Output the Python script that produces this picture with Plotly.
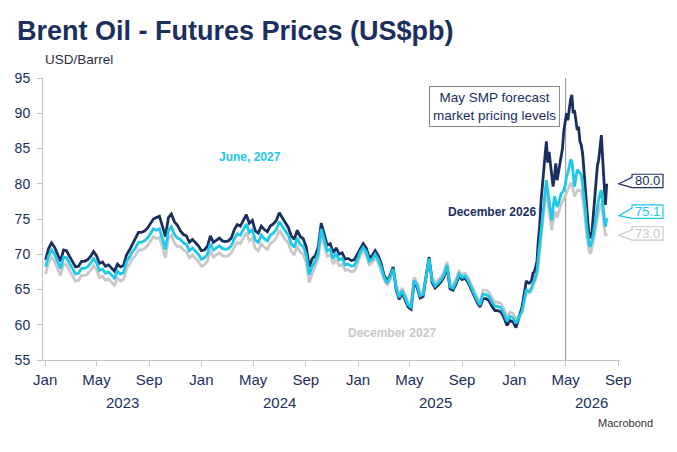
import pandas as pd
import plotly.graph_objects as go

# ---------------- data ----------------
WEEKLY_START = "2023-01-02"          # weekly observations
LATE_START, LATE_END = "2026-01-29", "2026-08-05"   # twice-weekly observations

dec26_weekly = [
    69.2, 70.8, 71.6, 71.0, 70.0, 69.0, 70.6, 70.5, 69.7, 68.9,
    68.2, 68.3, 69.0, 69.0, 69.2, 69.7, 70.4, 69.8, 68.7, 68.9,
    68.3, 68.5, 68.0, 67.6, 68.6, 68.2, 68.4, 69.9, 70.6, 71.4,
    72.3, 73.1, 73.1, 73.3, 73.7, 74.4, 75.0, 75.2, 75.4, 74.0,
    72.5, 75.2, 75.7, 74.6, 74.1, 73.3, 72.8, 72.6, 71.7, 72.1,
    71.6, 71.2, 70.5, 70.6, 71.1, 72.6, 71.7, 72.0, 72.3, 71.9,
    71.8, 71.9, 72.3, 73.5, 74.2, 74.0, 74.8, 75.6, 74.4, 74.8,
    73.3, 73.0, 74.0, 73.5, 73.2, 74.0, 74.3, 74.8, 75.9, 75.2,
    74.6, 73.8, 72.6, 72.1, 73.4, 72.5, 72.2, 71.0, 68.2, 69.4,
    69.8, 71.0, 74.4, 73.0, 71.3, 71.5, 70.2, 70.9, 70.0, 70.2,
    69.3, 69.4, 69.1, 69.2, 70.0, 70.8, 71.5, 70.9, 69.5, 69.8,
    70.5, 69.8, 68.7, 67.0, 66.2, 67.0, 68.2, 65.0, 63.6, 64.5,
    63.5, 62.5, 62.2, 66.0, 65.3, 63.8, 64.0, 66.5, 69.6, 66.0,
    65.2, 65.6, 66.1, 66.8, 68.2, 65.1, 64.9, 65.8, 66.9, 66.4,
    66.6, 66.0, 65.0, 64.2, 63.2, 62.5, 63.7, 63.7, 63.4, 62.6,
    62.0, 62.0, 61.8, 61.0, 59.9, 60.6, 60.4, 59.6, 61.0, 62.5,
    65.0,
]
jun27_weekly = [
    68.2, 69.8, 70.6, 70.0, 69.0, 68.0, 69.6, 69.5, 68.7, 67.9,
    67.2, 67.3, 68.0, 68.0, 68.2, 68.7, 69.4, 68.8, 67.7, 67.9,
    67.3, 67.5, 67.0, 66.6, 67.6, 67.2, 67.4, 68.9, 69.6, 70.4,
    70.9, 71.7, 71.7, 71.9, 72.3, 73.0, 73.6, 73.4, 73.6, 72.2,
    70.7, 73.4, 73.9, 72.8, 72.3, 72.1, 71.6, 71.4, 70.5, 70.9,
    70.4, 70.0, 69.3, 69.5, 70.0, 71.5, 70.6, 70.9, 71.2, 70.8,
    70.7, 70.8, 71.2, 72.2, 72.9, 72.7, 73.5, 74.3, 73.1, 73.5,
    72.0, 71.7, 72.7, 72.2, 71.9, 72.7, 73.0, 73.5, 74.6, 73.9,
    73.3, 72.7, 71.5, 71.0, 72.3, 71.4, 71.1, 69.9, 67.1, 68.3,
    69.0, 70.2, 73.6, 72.2, 70.5, 70.7, 69.4, 70.1, 69.2, 69.4,
    68.5, 68.6, 68.3, 68.4, 69.2, 70.3, 71.0, 70.4, 69.0, 69.3,
    70.0, 69.3, 68.2, 66.7, 65.9, 66.7, 67.9, 65.3, 63.9, 64.8,
    63.8, 62.8, 62.5, 66.3, 65.6, 64.1, 64.3, 66.8, 69.4, 66.3,
    65.5, 65.9, 66.4, 67.1, 68.5, 65.4, 65.2, 66.1, 67.2, 66.7,
    66.9, 66.3, 65.3, 64.5, 63.5, 62.8, 64.3, 64.3, 64.0, 63.2,
    62.6, 62.6, 62.4, 61.6, 60.5, 61.2, 61.0, 60.2, 61.0, 61.9,
    64.0,
]
dec27_weekly = [
    67.2, 68.8, 69.6, 69.0, 68.0, 67.0, 68.6, 68.5, 67.7, 66.9,
    66.2, 66.3, 67.0, 67.0, 67.2, 67.7, 68.4, 67.8, 66.7, 66.9,
    66.3, 66.5, 66.0, 65.6, 66.6, 66.2, 66.4, 67.9, 68.6, 69.4,
    69.8, 70.6, 70.6, 70.8, 71.2, 71.9, 72.5, 72.2, 72.4, 71.0,
    69.5, 72.2, 72.7, 71.6, 71.1, 71.1, 70.6, 70.4, 69.5, 69.9,
    69.4, 69.0, 68.3, 68.5, 69.0, 70.5, 69.6, 69.9, 70.2, 69.8,
    69.7, 69.8, 70.2, 71.0, 71.7, 71.5, 72.3, 73.1, 71.9, 72.3,
    70.8, 70.5, 71.5, 71.0, 70.7, 71.5, 71.8, 72.3, 73.4, 72.7,
    72.1, 71.6, 70.4, 69.9, 71.2, 70.3, 70.0, 68.8, 66.0, 67.2,
    68.2, 69.4, 72.8, 71.4, 69.7, 69.9, 68.6, 69.3, 68.4, 68.6,
    67.7, 67.8, 67.5, 67.6, 68.4, 69.8, 70.5, 69.9, 68.5, 68.8,
    69.5, 68.8, 67.7, 66.4, 65.6, 66.4, 67.6, 65.7, 64.3, 65.2,
    64.2, 63.2, 62.9, 66.7, 66.0, 64.5, 64.7, 67.2, 69.2, 66.7,
    65.9, 66.3, 66.8, 67.5, 68.9, 65.8, 65.6, 66.5, 67.6, 67.1,
    67.3, 66.7, 65.7, 64.9, 63.9, 63.2, 64.9, 64.9, 64.6, 63.8,
    63.2, 63.2, 63.0, 62.2, 61.1, 61.8, 61.6, 60.8, 61.3, 61.8,
    63.8,
]
dec26_late = [
    66.2, 66.0, 65.9, 66.0, 66.3, 67.3, 67.5, 68.2, 69.0, 72.0,
    74.0, 77.5, 80.0, 82.5, 84.0, 86.0, 83.0, 84.5, 82.5, 81.0,
    79.6, 81.0, 82.9, 80.5, 81.5, 82.9, 84.0, 85.0, 87.5, 88.5,
    90.0, 89.0, 90.5, 91.9, 92.6, 90.0, 90.4, 88.8, 87.6, 88.1,
    86.0, 85.5, 84.3, 82.0, 79.0, 76.2, 74.4, 72.5, 72.3, 73.2,
    75.5, 78.2, 81.0, 82.5, 83.4, 85.0, 86.9, 83.5, 80.6, 77.0,
    80.0,
]
jun27_late = [
    65.0, 64.8, 64.7, 64.9, 65.2, 66.0, 66.3, 66.9, 67.6, 69.5,
    71.5, 73.5, 75.0, 77.5, 79.3, 80.5, 79.0, 77.7, 76.0, 74.8,
    76.5, 78.2, 77.5, 76.7, 77.2, 78.0, 78.6, 78.8, 79.1, 79.8,
    81.0, 81.5, 82.5, 83.4, 83.2, 81.0, 79.6, 80.8, 82.0, 81.8,
    81.5, 81.3, 79.8, 78.2, 76.5, 74.0, 72.5, 71.3, 71.1, 71.8,
    72.8, 74.0, 75.5, 76.8, 77.8, 78.6, 79.1, 77.2, 75.5, 73.9,
    75.1,
]
dec27_late = [
    64.8, 64.6, 64.5, 64.6, 64.9, 65.6, 65.9, 66.4, 67.0, 68.5,
    70.5, 72.3, 73.8, 76.0, 77.8, 78.6, 77.5, 76.5, 74.8, 73.4,
    74.8, 75.8, 76.0, 75.2, 75.8, 76.6, 77.2, 77.4, 77.8, 78.2,
    78.8, 79.1, 79.6, 80.0, 80.0, 79.0, 78.2, 78.6, 79.0, 79.1,
    79.1, 79.0, 77.8, 76.5, 75.0, 72.8, 71.5, 70.3, 70.1, 70.8,
    71.8, 72.8, 74.0, 75.2, 76.2, 76.8, 77.2, 75.6, 74.2, 72.6,
    73.0,
]

series_names = ["December 2027", "December 2026", "June, 2027"]
y_ticks = [55, 60, 65, 70, 75, 80, 85, 90, 95]
x_tick_dates = ["2023-01-01", "2023-05-01", "2023-09-01", "2024-01-01", "2024-05-01",
                "2024-09-01", "2025-01-01", "2025-05-01", "2025-09-01", "2026-01-01",
                "2026-05-01", "2026-09-01"]
x_tick_text = ["Jan", "May", "Sep"] * 4
year_labels = ["2023", "2024", "2025", "2026"]
forecast_date = "2026-05-01"

# ---------------- styling ----------------
NAVY = "#1b2f5e"
CYAN = "#1ec8e8"
GREY = "#c8c8c8"
AXIS = "#c4c4c4"
FONT = "Liberation Sans, Arial, sans-serif"

dates = list(pd.date_range(WEEKLY_START, periods=len(dec26_weekly), freq="7D")) + \
        list(pd.date_range(LATE_START, LATE_END, periods=len(dec26_late)))

dec26 = dec26_weekly + dec26_late
jun27 = jun27_weekly + jun27_late
dec27 = dec27_weekly + dec27_late

fig = go.Figure()
for vals, col, name in [(dec27, GREY, series_names[0]),
                        (dec26, NAVY, series_names[1]),
                        (jun27, CYAN, series_names[2])]:
    fig.add_trace(go.Scatter(x=dates, y=vals, mode="lines", name=name,
                             line=dict(color=col, width=2.8), showlegend=False,
                             hoverinfo="skip"))

fig.update_layout(
    width=677, height=452,
    margin=dict(l=43, r=57, t=78, b=92),
    paper_bgcolor="white", plot_bgcolor="white",
    font=dict(family=FONT, color=NAVY),
    title=dict(text="<b>Brent Oil - Futures Prices (US$pb)</b>",
               font=dict(size=27, color=NAVY, family=FONT),
               x=17 / 677, xanchor="left", xref="container",
               y=1 - 21 / 452, yanchor="top", yref="container"),
)

fig.update_xaxes(
    range=["2022-12-27", "2026-09-05"],
    tickvals=x_tick_dates, ticktext=x_tick_text,
    ticks="outside", ticklen=5, tickcolor=AXIS,
    showline=True, linecolor=AXIS, linewidth=1,
    showgrid=False, zeroline=False,
    tickfont=dict(size=15, color=NAVY), ticklabelstandoff=1,
)
fig.update_yaxes(
    range=[55, 95], tickvals=y_ticks,
    ticks="outside", ticklen=5, tickcolor=AXIS,
    showline=True, linecolor=AXIS, linewidth=1,
    showgrid=False, zeroline=False,
    tickfont=dict(size=14, color=NAVY), ticklabelstandoff=4,
)

# vertical forecast line
fig.add_shape(type="line", x0=forecast_date, x1=forecast_date, xref="x",
              y0=0, y1=1, yref="paper", line=dict(color="#8f8f8f", width=1),
              layer="below")

annotations = []
# year labels under the month ticks
for yr in year_labels:
    annotations.append(dict(x=f"{yr}-07-01", xref="x", y=-0.152, yref="paper",
                            text=yr, showarrow=False, xanchor="center", yanchor="middle",
                            font=dict(size=15, color=NAVY)))

annotations += [
    dict(x=0, xref="paper", y=1.064, yref="paper", text="USD/Barrel",
         showarrow=False, xanchor="left", yanchor="middle",
         font=dict(size=13.5, color="#2b2f3f")),
    dict(x=1.0607, xref="paper", y=-0.223, yref="paper", text="Macrobond",
         showarrow=False, xanchor="right", yanchor="middle",
         font=dict(size=11, color="#333333")),
    dict(x=0.896, xref="paper", y=0.898, yref="paper",
         text="May SMP forecast<br>market pricing levels",
         showarrow=False, xanchor="right", yanchor="middle", align="center",
         bgcolor="white", bordercolor="#8a8a8a", borderwidth=1, borderpad=3,
         font=dict(size=13.5, color=NAVY)),
    dict(x="2024-04-24", y=83.8, text="<b>June, 2027</b>", showarrow=False,
         font=dict(size=12, color=CYAN)),
    dict(x="2025-11-10", y=76.0, text="<b>December 2026</b>", showarrow=False,
         font=dict(size=12, color=NAVY)),
    dict(x="2025-03-22", y=58.8, text="<b>December 2027</b>", showarrow=False,
         font=dict(size=12, color=GREY)),
]

# end-value callouts (speech-bubble boxes pointing at the last value)
callouts = [(dec26[-1], NAVY, 0.4, 0.0),
            (jun27[-1], CYAN, 0.95, 0.37),
            (dec27[-1], GREY, -0.05, -0.3)]
xl, xr, xt, h = 1.0208, 1.0745, 0.998, 0.95
for val, col, c_off, t_off in callouts:
    cen = val + c_off
    tip = val + t_off
    top, bot = cen + h, cen - h
    path = (f"M {xr},{top} L {xl},{top} L {xl},{top - 0.45} L {xt},{tip} "
            f"L {xl},{bot} L {xr},{bot} Z")
    fig.add_shape(type="path", path=path, xref="paper", yref="y",
                  line=dict(color=col, width=1.2), fillcolor="white", layer="above")
    annotations.append(dict(x=(xl + xr) / 2, xref="paper", y=cen, yref="y",
                            text=f"{val:.1f}", showarrow=False,
                            xanchor="center", yanchor="middle",
                            font=dict(size=13, color=col)))

fig.update_layout(annotations=annotations)
fig.write_html("out.html", config={"displayModeBar": False},
               post_script="document.body.style.margin='0';document.body.style.padding='0';")
